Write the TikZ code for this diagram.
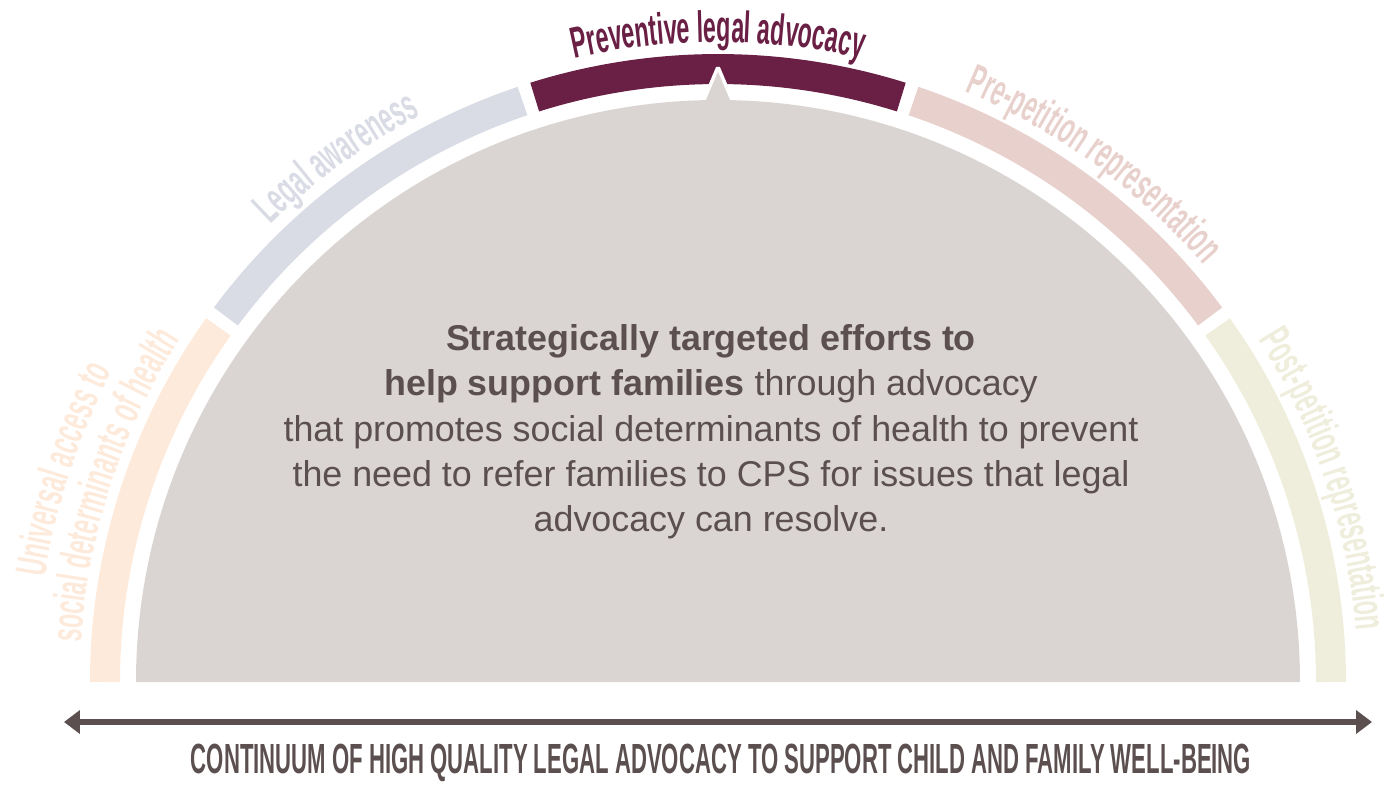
\documentclass[tikz,border=0pt]{standalone}
\usepackage{fontspec}
\setmainfont{Liberation Sans}
\newfontfamily\condfont[FakeStretch=0.53]{Liberation Sans Bold}
\newfontfamily\capfont[FakeStretch=0.525]{Liberation Sans Bold}
\usetikzlibrary{arrows.meta,decorations.text}

\definecolor{discgray}{HTML}{DAD5D3}
\definecolor{inkgray}{HTML}{5B4F4F}
\definecolor{peach}{HTML}{FDEADB}
\definecolor{bluegray}{HTML}{D9DBE5}
\definecolor{plum}{HTML}{6A1F45}
\definecolor{rosegray}{HTML}{E8D1CC}
\definecolor{cream}{HTML}{EFEDDB}

\begin{document}
\begin{tikzpicture}[
    band/.style={line width=0.6cm},
    maintext/.style={align=center, text=inkgray, font=\fontsize{20.4}{25.8}\selectfont}
  ]
    % keep the page as large as the reference
    \useasboundingbox (-14.36,-2.08) rectangle (13.64,13.64);
    \coordinate (O) at (0,0);

    % the five bands round the half disc
    \draw[band, peach]    (180:12.26)   arc[start angle=180,   end angle=144.6, radius=12.26];
    \draw[band, bluegray] (143.4:12.26) arc[start angle=143.4, end angle=108.6, radius=12.26];
    \draw[band, plum]     (107.4:12.26) arc[start angle=107.4, end angle=72.6,  radius=12.26];
    \draw[band, rosegray] (71.4:12.26)  arc[start angle=71.4,  end angle=36.6,  radius=12.26];
    \draw[band, cream]    (35.4:12.26)  arc[start angle=35.4,  end angle=0,     radius=12.26];

    % labels along the bands
    \path[decorate, decoration={text along path, text align=center, text color=peach,
        text={|\condfont\fontsize{25}{25}\selectfont|Universal access to}}]
        (180:13.62) arc[start angle=180, end angle=144, radius=13.62];
    \path[decorate, decoration={text along path, text align=center, text color=peach,
        text={|\condfont\fontsize{25}{25}\selectfont|social determinants of health}}]
        (180:12.76) arc[start angle=180, end angle=144, radius=12.76];
    \path[decorate, decoration={text along path, text align=center, text color=bluegray,
        text={|\condfont\fontsize{25}{25}\selectfont|Legal awareness}}]
        (144:12.8) arc[start angle=144, end angle=108, radius=12.8];
    \path[decorate, decoration={text along path, text align=center, text color=plum,
        text={|\condfont\fontsize{25}{25}\selectfont|Preventive legal advocacy}}]
        (108:12.8) arc[start angle=108, end angle=72, radius=12.8];
    \path[decorate, decoration={text along path, text align=center, text color=rosegray,
        text={|\condfont\fontsize{25}{25}\selectfont|Pre-petition representation}}]
        (72:12.8) arc[start angle=72, end angle=36, radius=12.8];
    \path[decorate, decoration={text along path, text align=center, text color=cream,
        text={|\condfont\fontsize{25}{25}\selectfont|Post-petition representation}}]
        (37:12.8) arc[start angle=37, end angle=0, radius=12.8];

    % the half disc with its pointer
    \filldraw[fill=discgray, draw=white, line width=2pt, rounded corners=1pt]
        (-0.32,11.55) -- (0,12.3) -- (0.32,11.55) -- cycle;
    \fill[discgray] (180:11.64) arc[start angle=180, end angle=0, radius=11.64] -- cycle;

    \node[maintext] (msg) at (-0.14,5.0)
        {\textbf{Strategically targeted efforts to}\\
         \textbf{help support families} through advocacy\\
         that promotes social determinants of health to prevent\\
         the need to refer families to CPS for issues that legal\\
         advocacy can resolve.};

    % the continuum
    \coordinate (west) at (-13.08,-0.8);
    \coordinate (east) at (13.08,-0.8);
    \draw[inkgray, line width=0.12cm, {Triangle[length=0.32cm, width=0.46cm]}-{Triangle[length=0.32cm, width=0.46cm]}]
        (west) -- (east);
    \node[text=inkgray, font=\capfont\fontsize{24}{24}\selectfont] (caption) at (0.06,-1.62)
        {CONTINUUM OF HIGH QUALITY LEGAL ADVOCACY TO SUPPORT CHILD AND FAMILY WELL-BEING};
\end{tikzpicture}
\end{document}
